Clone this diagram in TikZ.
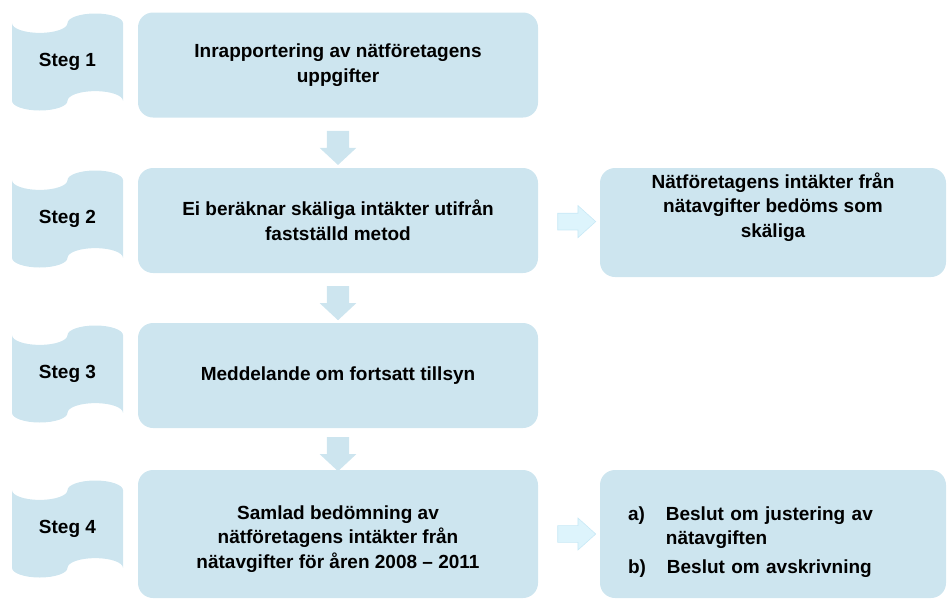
\documentclass[tikz,border=0pt]{standalone}
\usepackage{fontspec}
\setmainfont{Liberation Sans}
\usepackage{xcolor}
\usepackage{tikz}
\usetikzlibrary{shapes,arrows,positioning,calc}

\definecolor{boxblue}{RGB}{205,229,239}
\definecolor{arrfill}{RGB}{221,244,252}
\definecolor{arrline}{RGB}{200,233,246}

\begin{document}
\begin{tikzpicture}[x=1pt, y=-1pt]
\tikzset{
txt/.style      = {font=\bfseries\fontsize{19}{24.5}\selectfont, align=center},
box/.style      = {txt, shape=rectangle, fill=boxblue, rounded corners=15pt, minimum width=400pt, minimum height=105pt, inner sep=0pt},
resbox/.style   = {box, minimum width=346pt},
steg/.style     = {txt, shape=rectangle, minimum width=111pt, minimum height=97pt, inner sep=0pt,
    path picture={
    \fill[boxblue] ([yshift=-9.7pt]path picture bounding box.north west)
        arc[start angle=180, end angle=360, x radius=27.75pt, y radius=9.7pt]
        arc[start angle=180, end angle=0, x radius=27.75pt, y radius=9.7pt]
        -- ([yshift=9.7pt]path picture bounding box.south east)
        arc[start angle=0, end angle=180, x radius=27.75pt, y radius=9.7pt]
        arc[start angle=0, end angle=-180, x radius=27.75pt, y radius=9.7pt]
        -- cycle;}},
downarr/.style  = {shape=single arrow, fill=boxblue, inner xsep=0pt, inner ysep=11pt, minimum height=34pt, minimum width=32pt,
    single arrow tip angle=94, rotate=-90},
rightarr/.style = {shape=single arrow, fill=arrfill, draw=arrline, line width=0.6pt, inner xsep=0pt, inner ysep=7.5pt,
    minimum height=38pt, minimum width=32pt, single arrow tip angle=84},
}
\useasboundingbox (0,0) rectangle (947,600);

    % Step nodes
    \node [steg]   (steg_one)   at (67.5, 62)  {Steg 1};
    \node [steg]   (steg_two)   at (67.5, 219) {Steg 2};
    \node [steg]   (steg_three) at (67.5, 374) {Steg 3};
    \node [steg]   (steg_four)  at (67.5, 529) {Steg 4};

    % Process nodes
    \node [box]    (report)   at (338, 65)    {Inrapportering av nätföretagens\\uppgifter};
    \node [box]    (compute)  at (338, 220.5) {Ei beräknar skäliga intäkter utifrån\\fastställd metod};
    \node [box]    (notice)   at (338, 375.5) {Meddelande om fortsatt tillsyn};
    \node [box, minimum height=128pt, text height=73pt] (assess) at (338, 534)
        {Samlad bedömning av\\nätföretagens intäkter från\\nätavgifter för åren 2008 -- 2011};

    % Result nodes
    \node [resbox, minimum height=109pt, text depth=35pt] (fair) at (773, 222.5)
        {Nätföretagens intäkter från\\nätavgifter bedöms som\\skäliga};
    \node [resbox, minimum height=128pt, align=left, text width=290pt, text height=30pt] (decision) at (773, 534)
        {a)\hspace{21pt}Beslut om justering av\\\hphantom{a)}\hspace{21pt}nätavgiften\\[4pt]b)\hspace{21pt}Beslut om avskrivning};

    % Arrows
    \node [downarr]  (arr_report)  at ($(report.south)!0.5!(compute.north)$)  {};
    \node [downarr]  (arr_compute) at ($(compute.south)!0.5!(notice.north)$)  {};
    \node [downarr]  (arr_notice)  at ($(notice.south)!0.5!(assess.north)$)   {};
    \node [rightarr] (arr_fair)     at ($(compute.east)!0.55!(fair.west)$)    {};
    \node [rightarr] (arr_decision) at ($(assess.east)!0.55!(decision.west)$) {};

\end{tikzpicture}
\end{document}
